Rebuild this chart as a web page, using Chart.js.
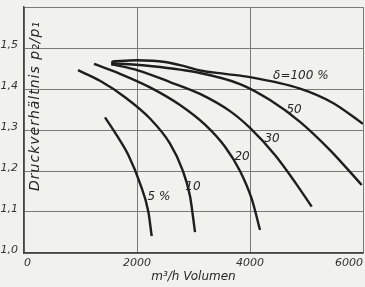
<!DOCTYPE html>
<html>
<head>
<meta charset="utf-8">
<script src="https://cdn.jsdelivr.net/npm/chart.js@4/dist/chart.umd.min.js"></script>
<style>
  html, body { margin: 0; padding: 0; background: #f1f1ee; }
  #wrap { width: 365px; height: 287px; }
</style>
</head>
<body>
<div id="wrap"><canvas id="Chart1" width="365" height="287"></canvas></div>
<script>
// Volumen in m3/h und Druckverhaeltnis p2/p1
const vol5 = [1434, 1646, 1846, 2053, 2200, 2260]
const p5 = [1.331, 1.286, 1.239, 1.170, 1.101, 1.041]

const vol10 = [956, 1345, 1788, 2230, 2584, 2796, 2938, 3027]
const p10 = [1.446, 1.420, 1.380, 1.328, 1.267, 1.206, 1.139, 1.051]

const vol20 = [1239, 1699, 2230, 2761, 3204, 3558, 3823, 4035, 4177]
const p20 = [1.461, 1.437, 1.404, 1.361, 1.313, 1.259, 1.200, 1.130, 1.056]

const vol30 = [1563, 2000, 2584, 3115, 3646, 4000, 4442, 4796, 5092]
const p30 = [1.460, 1.446, 1.417, 1.388, 1.346, 1.305, 1.239, 1.173, 1.113]

const vol50 = [1563, 2230, 3115, 3823, 4354, 4885, 5416, 5977]
const p50 = [1.463, 1.456, 1.439, 1.412, 1.373, 1.320, 1.251, 1.166]

const vol100 = [1563, 1995, 2496, 2850, 3115, 3558, 4000, 4885, 5469, 6000]
const p100 = [1.467, 1.470, 1.466, 1.455, 1.445, 1.437, 1.429, 1.401, 1.366, 1.315]

// kleiner Anfangsstrich bei 30/50/100
const volStart = [1563, 1563]
const pStart = [1.468, 1.457]

const curveLabels = ["\u03b4=100 %", "50", "30", "20", "10", "5 %"]
const labelVol = [4900, 4780, 4390, 3860, 2990, 2390]
const labelP = [1.432, 1.349, 1.278, 1.234, 1.161, 1.137]

const xTicks = [0, 2000, 4000, 6000]
const yTicks = [1.0, 1.1, 1.2, 1.3, 1.4, 1.5, 1.6]

function pts(xs, ys) {
    return xs.map((x, i) => ({x: x, y: ys[i]}))
}

function curve(xs, ys) {
    return {
        data: pts(xs, ys),
        showLine: true,
        borderColor: "#1e1e1e",
        borderWidth: 2.4,
        pointRadius: 0,
        cubicInterpolationMode: "monotone",
        fill: false
    }
}

const italic = {family: "DejaVu Sans", size: 11, style: "italic"}

const textPlugin = {
    id: "texte",
    afterDatasetsDraw(chart) {
        const ctx = chart.ctx
        const xs = chart.scales.x
        const ys = chart.scales.y
        ctx.save()
        ctx.fillStyle = "#262626"
        ctx.textAlign = "center"
        ctx.textBaseline = "middle"
        ctx.font = "italic 12px 'DejaVu Sans'"
        curveLabels.forEach((t, i) => {
            ctx.fillText(t, xs.getPixelForValue(labelVol[i]), ys.getPixelForValue(labelP[i]))
        })
        // Achsentitel innerhalb der Flaeche
        ctx.translate(35, 106)
        ctx.rotate(-Math.PI / 2)
        ctx.font = "italic 14px 'DejaVu Sans'"
        ctx.letterSpacing = "1px"
        ctx.fillText("Druckverh\u00e4ltnis p\u2082/p\u2081", 0, 0)
        ctx.restore()
    }
}

new Chart(document.getElementById("Chart1"), {
    type: "scatter",
    data: {
        datasets: [
            curve(vol5, p5),
            curve(vol10, p10),
            curve(vol20, p20),
            curve(vol30, p30),
            curve(vol50, p50),
            curve(vol100, p100),
            curve(volStart, pStart)
        ]
    },
    options: {
        responsive: false,
        animation: false,
        layout: {padding: {top: 7, right: 2, left: 0, bottom: 0}},
        plugins: {legend: {display: false}, tooltip: {enabled: false}},
        scales: {
            x: {
                type: "linear",
                min: 0,
                max: 6000,
                afterBuildTicks: (s) => { s.ticks = xTicks.map((v) => ({value: v})) },
                afterFit: (s) => {
                    s.height = 34
                    s.paddingLeft = 0
                    s.paddingRight = 0
                },
                grid: {color: "#7a7a7a", lineWidth: 1, drawTicks: false},
                border: {color: "#444", width: 1.5},
                ticks: {
                    color: "#333",
                    font: italic,
                    padding: 4,
                    align: "inner",
                    maxRotation: 0,
                    callback: (v) => String(v)
                },
                title: {
                    display: true,
                    text: "m\u00b3/h Volumen",
                    color: "#262626",
                    font: {family: "DejaVu Sans", size: 12, style: "italic"},
                    padding: {top: 0, bottom: 3}
                }
            },
            y: {
                type: "linear",
                min: 1.0,
                max: 1.6,
                afterBuildTicks: (s) => { s.ticks = yTicks.map((v) => ({value: v})) },
                afterFit: (s) => {
                    s.width = 24
                    s.paddingTop = 0
                    s.paddingBottom = 0
                },
                grid: {color: "#7a7a7a", lineWidth: 1, drawTicks: false},
                border: {color: "#444", width: 1.5},
                ticks: {
                    color: "#333",
                    font: italic,
                    padding: 6,
                    labelOffset: -3,
                    callback: (v) => v >= 1.55 ? "" : v.toFixed(1).replace(".", ",")
                }
            }
        }
    },
    plugins: [textPlugin]
})
</script>
</body>
</html>
